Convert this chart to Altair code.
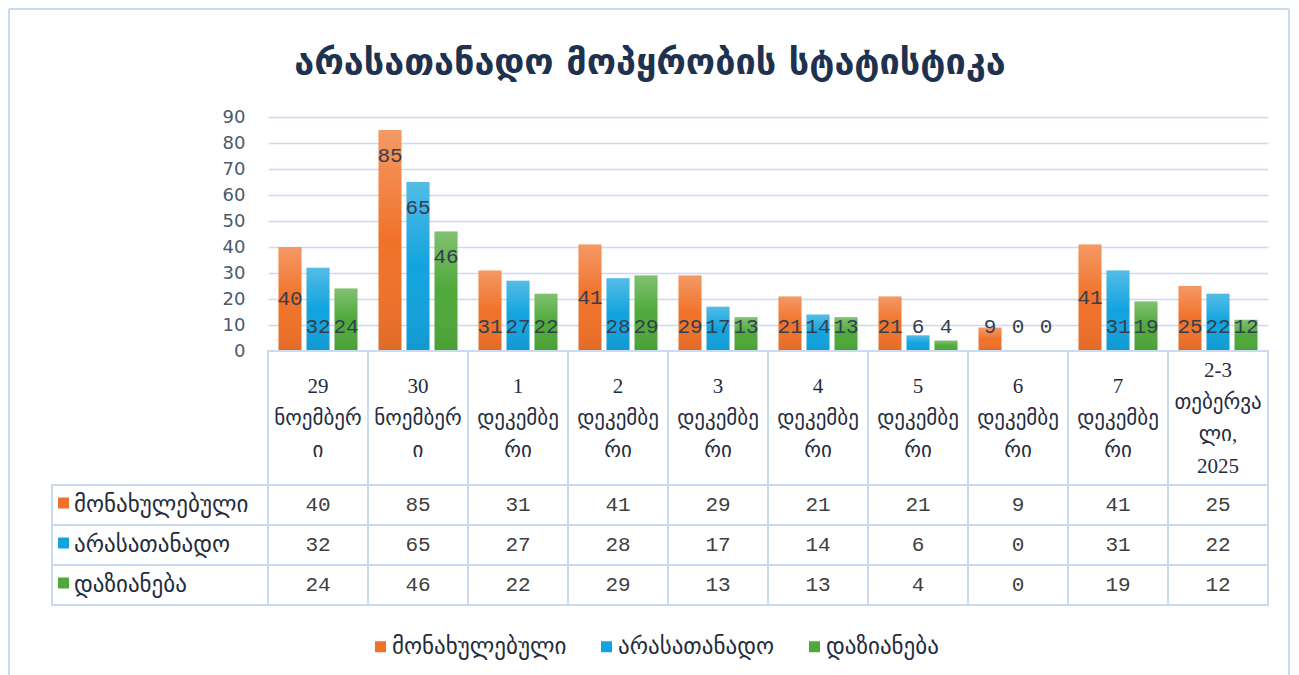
import altair as alt
import pandas as pd

title_text = "არასათანადო მოპყრობის სტატისტიკა"
categories = ["29 ნოემბერი", "30 ნოემბერი", "1 დეკემბერი", "2 დეკემბერი", "3 დეკემბერი",
              "4 დეკემბერი", "5 დეკემბერი", "6 დეკემბერი", "7 დეკემბერი", "2-3 თებერვალი, 2025"]
header_lines = ["29\nნოემბერ\nი", "30\nნოემბერ\nი", "1\nდეკემბე\nრი", "2\nდეკემბე\nრი",
                "3\nდეკემბე\nრი", "4\nდეკემბე\nრი", "5\nდეკემბე\nრი", "6\nდეკემბე\nრი",
                "7\nდეკემბე\nრი", "2-3\nთებერვა\nლი,\n2025"]
series = ["მონახულებული", "არასათანადო", "დაზიანება"]
visited = [40, 85, 31, 41, 29, 21, 21, 9, 41, 25]
inadequate = [32, 65, 27, 28, 17, 14, 6, 0, 31, 22]
damage = [24, 46, 22, 29, 13, 13, 4, 0, 19, 12]
y_ticks = [0, 10, 20, 30, 40, 50, 60, 70, 80, 90]
colors = ["#F0722A", "#12A3DE", "#4FA93A"]

GRID = "#C9DBF1"
NAVY = "#1F2D3E"
GEO = "DejaVu Sans"
MONO = "Liberation Mono"
LINE_H = 32

rows = []
for s, vals in zip(series, [visited, inadequate, damage]):
    for c, v in zip(categories, vals):
        rows.append({"category": c, "series": s, "value": v})
df = pd.DataFrame(rows)
df_cat = pd.DataFrame({"category": categories, "header": header_lines})
df_ser = pd.DataFrame({"series": series})
one = pd.DataFrame({"k": [0]})

color_enc = alt.Color("series:N", sort=series,
                      scale=alt.Scale(domain=series, range=colors),
                      legend=alt.Legend(orient="none", direction="horizontal",
                                        legendX=317, legendY=518, title=None,
                                        symbolType="square", symbolSize=121,
                                        symbolStrokeWidth=0, labelFont=GEO,
                                        labelFontSize=23, labelColor=NAVY,
                                        labelLimit=400,
                                        columnPadding=28, labelOffset=0))

x_bar = alt.X("category:N", sort=categories,
              scale=alt.Scale(domain=categories, paddingInner=0.21, paddingOuter=0.105),
              axis=None)
xoff = alt.XOffset("series:N", sort=series,
                   scale=alt.Scale(domain=series, paddingInner=0.1786, paddingOuter=0))
y_scale = alt.Scale(domain=[0, 90])
y_axis = alt.Axis(values=y_ticks, grid=True, gridColor=GRID, gridWidth=1.6,
                  domain=False, ticks=False, tickSize=0, labelPadding=23,
                  labelOverlap=False, labelFont="DejaVu Sans", labelFontSize=18,
                  labelColor="#4A5A6E", title=None)

bars = alt.Chart(df).mark_bar().encode(
    x=x_bar, xOffset=xoff, y=alt.Y("value:Q", scale=y_scale, axis=y_axis), color=color_enc)

shade = alt.Chart(df).mark_bar(
    color=alt.Gradient(gradient="linear", x1=0, y1=0, x2=0, y2=1,
                       stops=[alt.GradientStop(color="rgba(255,255,255,0.28)", offset=0),
                              alt.GradientStop(color="rgba(255,255,255,0)", offset=0.5),
                              alt.GradientStop(color="rgba(0,0,0,0.07)", offset=1)])
).encode(x=x_bar, xOffset=xoff, y=alt.Y("value:Q", scale=y_scale, axis=y_axis))

labels = alt.Chart(df).transform_calculate(
    pos="datum.value >= 45 ? datum.value - 10 : (datum.value >= 35 ? datum.value / 2 : 9.3)"
).mark_text(font=MONO, fontSize=21, color="#333F4F", baseline="middle").encode(
    x=x_bar, xOffset=xoff, y=alt.Y("pos:Q", scale=y_scale, axis=y_axis),
    text=alt.Text("value:Q"))

frame_left = alt.Chart(one).mark_rule(color=GRID, strokeWidth=2).encode(
    x=alt.value(-259), y=alt.value(-108), y2=alt.value(562))
frame_top = alt.Chart(one).mark_rule(color=GRID, strokeWidth=2).encode(
    x=alt.value(-259), x2=alt.value(1021), y=alt.value(-108))
frame_right = alt.Chart(one).mark_rule(color=GRID, strokeWidth=2).encode(
    x=alt.value(1021), y=alt.value(-108), y2=alt.value(562))

title_mark = alt.Chart(one).mark_text(font=GEO, fontSize=36, fontWeight="bold",
                                      color="#1E3250", align="center",
                                      baseline="alphabetic").encode(
    x=alt.value(382), y=alt.value(-43), text=alt.value(title_text))

bar_view = alt.layer(frame_left, frame_top, frame_right, title_mark,
                     bars, shade, labels).properties(width=1000, height=234)

spacer1 = alt.Chart(one).mark_point(opacity=0).encode(x=alt.value(0), y=alt.value(0)).properties(
    width=216, height=234)
spacer2 = alt.Chart(one).mark_point(opacity=0).encode(x=alt.value(0), y=alt.value(0)).properties(
    width=216, height=134)

x_tab = alt.X("category:N", sort=categories,
              scale=alt.Scale(domain=categories, paddingInner=0, paddingOuter=0), axis=None)

head_cells = alt.Chart(df_cat).mark_rect(fill="white", stroke=GRID, strokeWidth=2).encode(x=x_tab)
head_text = alt.Chart(df_cat).transform_calculate(
    shift=f"-(length(split(datum.header, '\\n')) - 1) * {LINE_H / 2}"
).mark_text(font="Liberation Serif, " + GEO, fontSize=21,
            lineBreak="\n", lineHeight=LINE_H, color=NAVY,
            baseline="middle").encode(
    x=x_tab, y=alt.value(68), yOffset=alt.YOffset("shift:Q", scale=None), text="header:N")
header_view = alt.layer(head_cells, head_text).properties(width=1000, height=134)

y_tab = alt.Y("series:N", sort=series,
              scale=alt.Scale(domain=series, paddingInner=0, paddingOuter=0), axis=None)

val_cells = alt.Chart(df).mark_rect(fill="white", stroke=GRID, strokeWidth=2).encode(x=x_tab, y=y_tab)
val_text = alt.Chart(df).mark_text(font=MONO, fontSize=21, color="#404040",
                                   baseline="middle").encode(x=x_tab, y=y_tab, text="value:Q")
values_view = alt.layer(val_cells, val_text).properties(width=1000, height=120)

rh_cells = alt.Chart(df_ser).mark_rect(fill="white", stroke=GRID, strokeWidth=2).encode(y=y_tab)
rh_sq = alt.Chart(df_ser).mark_square(size=121, opacity=1, yOffset=-2).encode(
    x=alt.value(11.5), y=y_tab,
    color=alt.Color("series:N", sort=series, scale=alt.Scale(domain=series, range=colors),
                    legend=None))
rh_text = alt.Chart(df_ser).mark_text(font=GEO, fontSize=23, color=NAVY, align="left",
                                      baseline="middle").encode(
    x=alt.value(22), y=y_tab, text="series:N")
rowhdr_view = alt.layer(rh_cells, rh_sq, rh_text).properties(width=216, height=120)

chart = alt.concat(spacer1, bar_view, spacer2, header_view, rowhdr_view, values_view,
                   columns=2, spacing=0, bounds="flush").resolve_scale(
    x="independent", y="independent", color="shared"
).properties(padding=0, background="white").configure_view(stroke=None)

chart.save("out.html", embed_options={"renderer": "svg", "actions": False})
